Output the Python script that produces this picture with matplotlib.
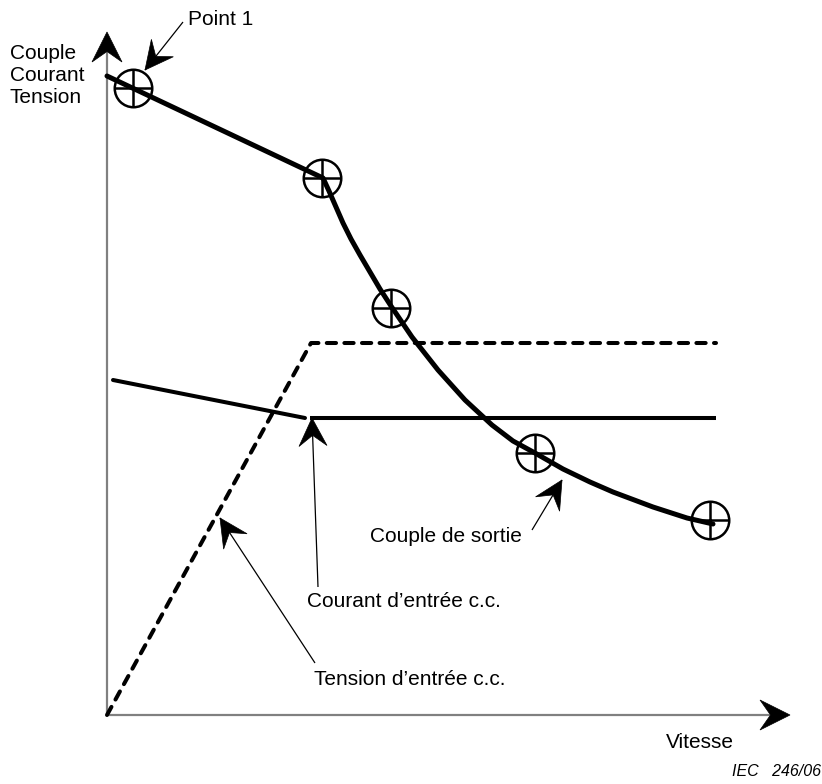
import numpy as np
import matplotlib
matplotlib.use("Agg")
import matplotlib.pyplot as plt
from matplotlib.patches import Polygon

plt.rcParams['font.family'] = ['Liberation Sans', 'DejaVu Sans']

# ---- data (schematic units: speed on x, magnitude on y) ----
couple_x = [0, 216, 222, 229, 236, 244, 253, 263, 273, 284, 305, 331, 358, 385, 406, 428, 456, 483, 506, 546, 580, 606]
couple_y = [639, 537, 524, 508, 492, 476, 460, 443, 426, 409, 378, 345, 315, 290, 274, 262, 246, 233, 223, 208, 197, 191]
point_x = [26, 215, 284, 428, 603]
point_y = [627, 537, 407, 262, 195]
tension_x = [0, 204, 609]
tension_y = [0, 372, 372]
courant1_x = [6, 198]
courant1_y = [335, 297]
courant2_x = [203, 609]
courant2_y = [297, 297]

axis_labels_y = ["Couple", "Courant", "Tension"]
label_x = "Vitesse"
source = "IEC   246/06"

fig = plt.figure(figsize=(8.22, 7.84), dpi=100)
ax = fig.add_axes([0, 0, 1, 1])
ax.set_xlim(-107, 715)
ax.set_ylim(-69, 715)
ax.axis('off')


def head(tip, tail, L=28, W=14, notch=0.62, color='black'):
    tip = np.array(tip, float)
    tail = np.array(tail, float)
    d = tip - tail
    d /= np.hypot(*d)
    p = np.array([-d[1], d[0]])
    pts = [tip,
           tip - L * d + W * p,
           tip - notch * L * d,
           tip - L * d - W * p]
    ax.add_patch(Polygon(pts, closed=True, facecolor=color, edgecolor=color,
                         lw=0.5, zorder=6))


def arrow(tail, tip, lw=0.9, color='black'):
    ax.plot([tail[0], tip[0]], [tail[1], tip[1]], color=color, lw=lw,
            zorder=5, solid_capstyle='butt')
    head(tip, tail)


# axes
ax.plot([0, 0], [0, 670], color='#808080', lw=1.6, zorder=1, solid_capstyle='butt')
ax.plot([0, 670], [0, 0], color='#808080', lw=1.6, zorder=1, solid_capstyle='butt')
head((0, 683), (0, 0), L=30, W=15, notch=0.65)
head((683, 0), (0, 0), L=30, W=15, notch=0.65)

# curves
ax.plot(couple_x, couple_y, color='black', lw=3.6, solid_joinstyle='round',
        solid_capstyle='round', zorder=3)
ax.plot(tension_x, tension_y, color='black', lw=2.9, dashes=(2.3, 2.07),
        dash_capstyle='round', dash_joinstyle='round', zorder=3)
ax.plot(courant1_x, courant1_y, color='black', lw=2.9, solid_capstyle='round', zorder=3)
ax.plot(courant2_x, courant2_y, color='black', lw=2.9, solid_capstyle='butt', zorder=3)

# point markers
ax.plot(point_x, point_y, linestyle='none', marker='o', markersize=27,
        markerfacecolor='none', markeredgecolor='black', markeredgewidth=1.8, zorder=4)
ax.plot(point_x, point_y, linestyle='none', marker='+', markersize=27,
        markeredgecolor='black', markeredgewidth=1.8, zorder=4)

# annotations
fs = 15
arrow((76, 693), (38, 645))
ax.text(81, 690, "Point 1", fontsize=fs, ha='left', va='baseline')

arrow((425, 185), (455, 235))
ax.text(263, 173, "Couple de sortie", fontsize=fs, ha='left', va='baseline')

arrow((211, 128), (205, 297))
ax.text(200, 108, "Courant d\u2019entr\u00e9e c.c.", fontsize=fs, ha='left', va='baseline')

arrow((208, 52), (113, 197))
ax.text(207, 30, "Tension d\u2019entr\u00e9e c.c.", fontsize=fs, ha='left', va='baseline')

for i, t in enumerate(axis_labels_y):
    ax.text(-97, 656 - 22 * i, t, fontsize=fs, ha='left', va='baseline')

ax.text(559, -33, label_x, fontsize=fs, ha='left', va='baseline')
ax.text(625, -61, source, fontsize=11.5, style='italic', ha='left', va='baseline')

fig.savefig("out.png", dpi=100)
